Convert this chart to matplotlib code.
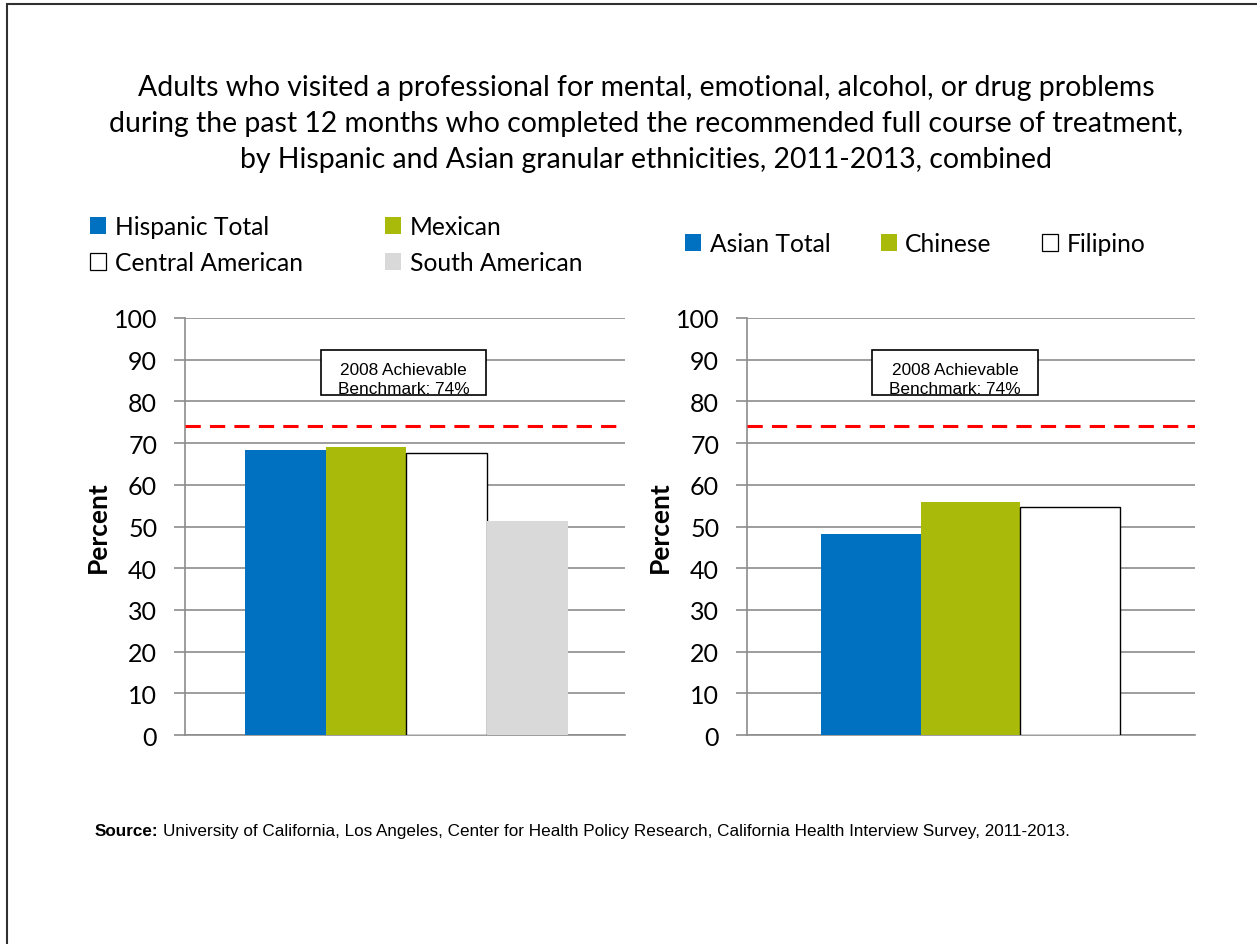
import matplotlib
matplotlib.use("Agg")
import matplotlib.pyplot as plt
from matplotlib.patches import Patch, Rectangle
from matplotlib.text import Annotation
from matplotlib import font_manager

# Data
hisp_labels = ["Hispanic Total", "Mexican", "Central American", "South American"]
hisp_values = [68.3, 69.1, 67.7, 51.2]
asian_labels = ["Asian Total", "Chinese", "Filipino"]
asian_values = [48.2, 55.9, 54.6]
benchmark = 74
benchmark_text = "2008 Achievable\nBenchmark: 74%"
y_ticks = [0, 10, 20, 30, 40, 50, 60, 70, 80, 90, 100]

title = ("Adults who visited a professional for mental, emotional, alcohol, or drug problems\n"
         "during the past 12 months who completed the recommended full course of treatment,\n"
         "by Hispanic and Asian granular ethnicities, 2011-2013, combined")
source_bold = "Source:"
source_rest = ("University of California, Los Angeles, Center for Health Policy Research, "
               "California Health Interview Survey, 2011-2013.")

BLUE = "#0070C0"
GREEN = "#A9BA0A"
WHITE = "#FFFFFF"
GREY = "#D9D9D9"
hisp_colors = [BLUE, GREEN, WHITE, GREY]
asian_colors = [BLUE, GREEN, WHITE]

installed = {f.name for f in font_manager.fontManager.ttflist}
MAIN = "Lato" if "Lato" in installed else "DejaVu Sans"
NARROW = "Liberation Sans Narrow" if "Liberation Sans Narrow" in installed else "Liberation Sans"

W, H = 1257, 945
fig = plt.figure(figsize=(W / 100, H / 100), dpi=100)
fig.patch.set_facecolor("white")

# outer frame
fig.add_artist(Rectangle((7 / W, -0.01), 1.2, 1 - 5 / H + 0.01, transform=fig.transFigure,
                         fill=False, edgecolor="#303030", linewidth=1.5))

fig.text(646 / W, 1 - 124 / H, title, ha="center", va="center", fontsize=20.4,
         family=MAIN, linespacing=1.48)


def px_axes(x0, x1, y0, y1):
    return fig.add_axes([x0 / W, 1 - y1 / H, (x1 - x0) / W, (y1 - y0) / H])


def panel(ax, values, colors, xlim, box_x):
    n = len(values)
    xs = [i - (n - 1) / 2 for i in range(n)]
    for x, v, c in zip(xs, values, colors):
        ax.bar(x, v, width=1.0, color=c,
               edgecolor="black" if c == WHITE else c,
               linewidth=1.0 if c == WHITE else 0, zorder=3)
    ax.set_xlim(*xlim)
    ax.set_ylim(0, 100)
    ax.set_yticks(y_ticks)
    ax.set_xticks([])
    ax.grid(axis="y", color="#8C8C8C", linewidth=1.2, zorder=0)
    for s in ["top", "right"]:
        ax.spines[s].set_visible(False)
    ax.spines["left"].set_color("#8C8C8C")
    ax.spines["left"].set_linewidth(1.2)
    ax.spines["bottom"].set_color("#8C8C8C")
    ax.spines["bottom"].set_linewidth(1.2)
    ax.tick_params(axis="y", length=8, width=1.2, color="#8C8C8C", labelsize=18, pad=12)
    for lab in ax.get_yticklabels():
        lab.set_family(MAIN)
    ax.set_ylabel("Percent", fontsize=19, fontweight="bold", family=MAIN, labelpad=3)
    ax.axhline(benchmark, color="#FF0000", linestyle=(0, (5, 3)), linewidth=2.2, zorder=4)
    ax.set_facecolor("white")
    # benchmark label box
    bx0, bx1 = box_x
    box = Rectangle((bx0 / W, 1 - 396 / H), (bx1 - bx0) / W, 45 / H, transform=fig.transFigure,
                    facecolor="white", edgecolor="black", linewidth=1.2, zorder=5)
    fig.add_artist(box)
    t = fig.text((bx0 + bx1) / 2 / W, 1 - 380 / H, benchmark_text, ha="center", va="center",
                 fontsize=12.4, family="Liberation Sans", linespacing=1.3, zorder=6)
    t.set_clip_path(box)


axL = px_axes(185, 625, 319, 736)
panel(axL, hisp_values, hisp_colors, (-2.743, 2.706), (321, 486))
axR = px_axes(747, 1195, 319, 736)
panel(axR, asian_values, asian_colors, (-2.242, 2.252), (872, 1038))


def handles(labels, colors):
    return [Patch(facecolor=c, edgecolor="black" if c == WHITE else c,
                  linewidth=0.9 if c == WHITE else 0, label=l)
            for l, c in zip(labels, colors)]


# two-column legend filled row by row
hl = handles(hisp_labels, hisp_colors)
hl = [hl[0], hl[2], hl[1], hl[3]]
fig.legend(handles=hl, ncol=2, frameon=False,
           loc="upper left", bbox_to_anchor=(90 / W, 1 - 216 / H),
           prop={"family": MAIN, "size": 17.7}, handlelength=0.65, handleheight=0.65,
           handletextpad=0.35, columnspacing=3.35, labelspacing=0.53,
           borderaxespad=0, borderpad=0)
fig.legend(handles=handles(asian_labels, asian_colors), ncol=3, frameon=False,
           loc="upper left", bbox_to_anchor=(685 / W, 1 - 233 / H),
           prop={"family": MAIN, "size": 17.7}, handlelength=0.65, handleheight=0.65,
           handletextpad=0.35, columnspacing=2.05, borderaxespad=0, borderpad=0)

# source note: bold lead-in followed by the citation
src = fig.text(95 / W, 1 - 832 / H, source_bold, ha="left", va="center", fontsize=12.3,
               fontweight="bold", family=NARROW)
fig.add_artist(Annotation(
    source_rest, xy=(1, 0.5), xycoords=src, xytext=(3, 0), textcoords="offset points",
    ha="left", va="center", fontsize=12.3, family=NARROW))

fig.savefig("out.png", dpi=100, facecolor="white")
